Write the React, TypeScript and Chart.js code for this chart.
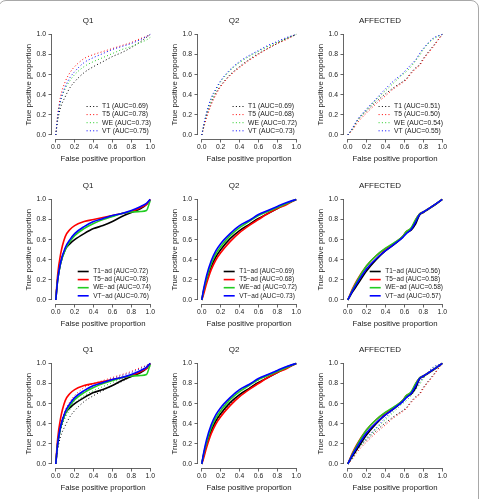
import React, { useEffect, useRef } from "react";
import { Chart, registerables } from "chart.js";

Chart.register(...registerables);

const FONT = '"Liberation Sans", Arial, Helvetica, sans-serif';
const TEXT = "#1a1a1a";

const AXIS_TICKS = [0, 0.2, 0.4, 0.6, 0.8, 1.0];
const SCORES = ["T1", "T5", "WE", "VT"];
const COLORS = ["#000000", "#ff0000", "#22cc22", "#0000ff"];
const ROW_TITLES = ["Q1", "Q2", "AFFECTED"];

// ---- Q1 ----
const q1Fpr = [0, 0.02, 0.05, 0.1, 0.15, 0.2, 0.3, 0.4, 0.5, 0.6, 0.7, 0.8, 0.9, 0.96, 1];
const q1T1 = [0, 0.14, 0.27, 0.38, 0.47, 0.53, 0.62, 0.68, 0.73, 0.78, 0.82, 0.87, 0.93, 0.97, 1];
const q1T5 = [0, 0.2, 0.38, 0.53, 0.62, 0.68, 0.76, 0.8, 0.83, 0.86, 0.89, 0.92, 0.96, 0.98, 1];
const q1WE = [0, 0.17, 0.33, 0.46, 0.54, 0.6, 0.68, 0.73, 0.77, 0.81, 0.85, 0.88, 0.92, 0.945, 0.97];
const q1VT = [0, 0.18, 0.34, 0.48, 0.57, 0.63, 0.72, 0.77, 0.81, 0.85, 0.88, 0.91, 0.95, 0.98, 1];
const q1AdT1 = [0, 0.2, 0.36, 0.5, 0.56, 0.6, 0.66, 0.71, 0.74, 0.78, 0.83, 0.87, 0.91, 0.95, 1];
const q1AdT5 = [0, 0.25, 0.45, 0.63, 0.7, 0.74, 0.78, 0.8, 0.82, 0.84, 0.86, 0.88, 0.92, 0.95, 1];
const q1AdWE = [0, 0.2, 0.36, 0.5, 0.58, 0.64, 0.71, 0.76, 0.8, 0.83, 0.86, 0.875, 0.88, 0.89, 0.99];
const q1AdVT = [0, 0.2, 0.37, 0.52, 0.6, 0.66, 0.73, 0.78, 0.81, 0.84, 0.86, 0.89, 0.93, 0.96, 1];
const q1Auc = [0.69, 0.78, 0.73, 0.75];
const q1AdAuc = [0.72, 0.78, 0.74, 0.76];

// ---- Q2 ----
const q2Fpr = [0, 0.02, 0.05, 0.1, 0.15, 0.2, 0.3, 0.4, 0.5, 0.6, 0.7, 0.8, 0.9, 1];
const q2T1 = [0, 0.08, 0.19, 0.32, 0.42, 0.49, 0.6, 0.68, 0.75, 0.81, 0.86, 0.91, 0.96, 1];
const q2T5 = [0, 0.07, 0.17, 0.3, 0.4, 0.48, 0.59, 0.67, 0.74, 0.8, 0.86, 0.91, 0.95, 1];
const q2WE = [0, 0.09, 0.21, 0.35, 0.45, 0.53, 0.64, 0.72, 0.78, 0.83, 0.88, 0.92, 0.96, 1];
const q2VT = [0, 0.1, 0.22, 0.37, 0.46, 0.54, 0.65, 0.73, 0.79, 0.84, 0.89, 0.93, 0.97, 1];
const q2AdT1 = [0, 0.09, 0.2, 0.33, 0.43, 0.5, 0.61, 0.69, 0.75, 0.81, 0.86, 0.91, 0.96, 1];
const q2AdT5 = [0, 0.06, 0.16, 0.3, 0.4, 0.47, 0.58, 0.67, 0.74, 0.8, 0.86, 0.91, 0.95, 1];
const q2AdWE = [0, 0.1, 0.21, 0.36, 0.46, 0.53, 0.64, 0.72, 0.78, 0.84, 0.88, 0.92, 0.96, 1];
const q2AdVT = [0, 0.11, 0.24, 0.39, 0.49, 0.56, 0.66, 0.74, 0.79, 0.85, 0.89, 0.93, 0.97, 1];
const q2Auc = [0.69, 0.68, 0.72, 0.73];
const q2AdAuc = [0.69, 0.68, 0.72, 0.73];

// ---- AFFECTED ----
const affFpr = [0, 0.05, 0.1, 0.2, 0.3, 0.4, 0.5, 0.58, 0.62, 0.67, 0.72, 0.76, 0.8, 0.9, 1];
const affT1 = [0, 0.06, 0.14, 0.24, 0.33, 0.41, 0.48, 0.53, 0.56, 0.62, 0.67, 0.7, 0.76, 0.88, 1];
const affT5 = [0, 0.05, 0.12, 0.22, 0.31, 0.39, 0.47, 0.52, 0.55, 0.61, 0.66, 0.69, 0.75, 0.87, 1];
const affWE = [0, 0.06, 0.14, 0.25, 0.35, 0.44, 0.53, 0.6, 0.63, 0.68, 0.74, 0.79, 0.85, 0.95, 1];
const affVT = [0, 0.07, 0.15, 0.26, 0.36, 0.46, 0.55, 0.61, 0.65, 0.7, 0.75, 0.81, 0.86, 0.96, 1];
const affAdT1 = [0, 0.08, 0.15, 0.29, 0.4, 0.49, 0.56, 0.625, 0.67, 0.695, 0.76, 0.845, 0.87, 0.93, 1];
const affAdT5 = [0, 0.11, 0.2, 0.34, 0.44, 0.51, 0.57, 0.63, 0.68, 0.71, 0.8, 0.855, 0.875, 0.935, 1];
const affAdWE = [0, 0.1, 0.19, 0.34, 0.44, 0.515, 0.575, 0.63, 0.68, 0.715, 0.8, 0.855, 0.875, 0.935, 1];
const affAdVT = [0, 0.09, 0.17, 0.31, 0.41, 0.49, 0.56, 0.62, 0.66, 0.7, 0.78, 0.85, 0.875, 0.935, 1];
const affAuc = [0.51, 0.5, 0.54, 0.55];
const affAdAuc = [0.56, 0.58, 0.58, 0.57];

type Spec = {
  title: string;
  fpr: number[];
  raw: number[][];
  adjusted: number[][];
  rawAuc: number[];
  adjAuc: number[];
};

const SPECS: Spec[] = [
  { title: ROW_TITLES[0], fpr: q1Fpr, raw: [q1T1, q1T5, q1WE, q1VT], adjusted: [q1AdT1, q1AdT5, q1AdWE, q1AdVT], rawAuc: q1Auc, adjAuc: q1AdAuc },
  { title: ROW_TITLES[1], fpr: q2Fpr, raw: [q2T1, q2T5, q2WE, q2VT], adjusted: [q2AdT1, q2AdT5, q2AdWE, q2AdVT], rawAuc: q2Auc, adjAuc: q2AdAuc },
  { title: ROW_TITLES[2], fpr: affFpr, raw: [affT1, affT5, affWE, affVT], adjusted: [affAdT1, affAdT5, affAdWE, affAdVT], rawAuc: affAuc, adjAuc: affAdAuc },
];

type Mode = "raw" | "adjusted" | "both";

const PANEL_W = 138;
const PANEL_H = 150;
const Y_AXIS_W = 30;
const X_AXIS_H = 26;
const COL_LEFT = [22, 168, 314];
const ROW_TOP = [15, 180, 344];
const ROW_MODES: Mode[] = ["raw", "adjusted", "both"];

// R-style axis lines: only from the first to the last tick
const rAxes = {
  id: "rAxes",
  afterDraw(chart: any) {
    const { ctx, chartArea, scales } = chart;
    const x = scales.x;
    const y = scales.y;
    ctx.save();
    ctx.strokeStyle = "#555";
    ctx.lineWidth = 0.9;
    ctx.beginPath();
    const by = Math.round(chartArea.bottom) + 0.5;
    const lx = Math.round(chartArea.left) - 0.5;
    ctx.moveTo(x.getPixelForValue(0), by);
    ctx.lineTo(x.getPixelForValue(1), by);
    ctx.moveTo(lx, y.getPixelForValue(0));
    ctx.lineTo(lx, y.getPixelForValue(1));
    ctx.stroke();
    ctx.restore();
  },
};

// Legend without a box, anchored to the bottom-right corner of the plot
function makeInsetLegend(show: boolean, fontSize: number) {
  return {
    id: "insetLegend",
    afterDraw(chart: any) {
      if (!show) return;
      const { ctx, chartArea } = chart;
      const sets = chart.data.datasets;
      ctx.save();
      ctx.font = `${fontSize}px ${FONT}`;
      const maxW = Math.max(...sets.map((d: any) => ctx.measureText(d.label).width));
      const textX = chartArea.right - 3 - maxW;
      const sampleEnd = textX - 4.5;
      const sampleStart = sampleEnd - 11;
      sets.forEach((d: any, i: number) => {
        const yy = chartArea.bottom - 8.2 - (sets.length - 1 - i) * 8.1;
        ctx.strokeStyle = d.borderColor;
        ctx.lineWidth = d.borderWidth;
        ctx.setLineDash(d.borderDash || []);
        ctx.beginPath();
        ctx.moveTo(sampleStart, yy);
        ctx.lineTo(sampleEnd, yy);
        ctx.stroke();
        ctx.setLineDash([]);
        ctx.fillStyle = TEXT;
        ctx.textAlign = "left";
        ctx.textBaseline = "middle";
        ctx.fillText(d.label, textX, yy);
      });
      ctx.restore();
    },
  };
}

function RocPanel({ spec, mode, left, top }: { spec: Spec; mode: Mode; left: number; top: number }) {
  const ref = useRef<HTMLCanvasElement | null>(null);

  useEffect(() => {
    const canvas = ref.current;
    if (!canvas) return;
    const datasets: any[] = [];
    const toPoints = (vals: number[]) => spec.fpr.map((x, i) => ({ x, y: vals[i] }));

    if (mode !== "raw") {
      spec.adjusted.forEach((vals, i) => {
        datasets.push({
          label: `${SCORES[i]}\u2212ad (AUC=${spec.adjAuc[i].toFixed(2)})`,
          data: toPoints(vals),
          borderColor: COLORS[i],
          borderWidth: 1.6,
          order: SCORES.length - 1 - i,
        });
      });
    }
    if (mode !== "adjusted") {
      spec.raw.forEach((vals, i) => {
        datasets.push({
          label: `${SCORES[i]} (AUC=${spec.rawAuc[i].toFixed(2)})`,
          data: toPoints(vals),
          borderColor: COLORS[i],
          borderWidth: 1,
          borderDash: [1, 2.3],
          order: 10 + SCORES.length - 1 - i,
        });
      });
    }

    const tickFont = { family: FONT, size: 6.8 };
    const titleFont = { family: FONT, size: 7.8 };

    const chart = new Chart(canvas, {
      type: "line",
      data: { datasets },
      options: {
        animation: false,
        responsive: false,
        events: [],
        layout: { padding: { left: 0, right: 6, top: 0, bottom: 0 } },
        elements: {
          point: { radius: 0 },
          line: { tension: 0.4, cubicInterpolationMode: "monotone", fill: false, borderCapStyle: "butt" },
        },
        plugins: {
          legend: { display: false },
          tooltip: { enabled: false },
          title: {
            display: true,
            text: spec.title,
            color: TEXT,
            font: { family: FONT, size: 8, weight: "normal", lineHeight: 1 },
            padding: { top: 2, bottom: 5.4 },
          },
        },
        scales: {
          x: {
            type: "linear",
            min: -0.04,
            max: 1.04,
            afterBuildTicks: (s: any) => {
              s.ticks = AXIS_TICKS.map((v) => ({ value: v }));
            },
            afterFit: (s: any) => {
              s.height = X_AXIS_H;
            },
            grid: { display: true, drawOnChartArea: false, drawTicks: true, tickLength: 3.5, color: "#555", lineWidth: 0.9 },
            border: { display: false },
            ticks: {
              padding: 0.5,
              font: tickFont,
              color: TEXT,
              maxRotation: 0,
              autoSkip: false,
              callback: (v: any) => Number(v).toFixed(1),
            },
            title: {
              display: true,
              text: "False positive proportion",
              font: titleFont,
              color: TEXT,
              padding: { top: 0, bottom: 1.3 },
            },
          },
          y: {
            type: "linear",
            min: -0.04,
            max: 1.04,
            afterBuildTicks: (s: any) => {
              s.ticks = AXIS_TICKS.map((v) => ({ value: v }));
            },
            afterFit: (s: any) => {
              s.width = Y_AXIS_W;
            },
            grid: { display: true, drawOnChartArea: false, drawTicks: true, tickLength: 3.5, color: "#555", lineWidth: 0.9 },
            border: { display: false },
            ticks: {
              padding: 2.5,
              font: tickFont,
              color: TEXT,
              autoSkip: false,
              callback: (v: any) => Number(v).toFixed(1),
            },
            title: {
              display: true,
              text: "True positive proportion",
              font: titleFont,
              color: TEXT,
              padding: { top: 2.3, bottom: 0 },
            },
          },
        },
      } as any,
      plugins: [rAxes, makeInsetLegend(mode !== "both", mode === "raw" ? 6.8 : 6.5)],
    });

    return () => chart.destroy();
  }, [spec, mode]);

  return (
    <canvas
      ref={ref}
      width={PANEL_W}
      height={PANEL_H}
      style={{ position: "absolute", left, top, width: PANEL_W, height: PANEL_H }}
    />
  );
}

export default function App() {
  return (
    <div
      style={{
        position: "fixed",
        left: 0,
        top: 0,
        width: 482,
        height: 499,
        background: "#fff",
        overflow: "hidden",
      }}
    >
      <div
        style={{
          position: "absolute",
          left: -2,
          top: 0,
          width: 481,
          height: 520,
          boxSizing: "border-box",
          border: "1px solid #a8a8a8",
          borderRadius: 8,
        }}
      />
      {ROW_MODES.map((mode, r) =>
        SPECS.map((spec, c) => (
          <RocPanel key={`${r}-${c}`} spec={spec} mode={mode} left={COL_LEFT[c]} top={ROW_TOP[r]} />
        ))
      )}
    </div>
  );
}
